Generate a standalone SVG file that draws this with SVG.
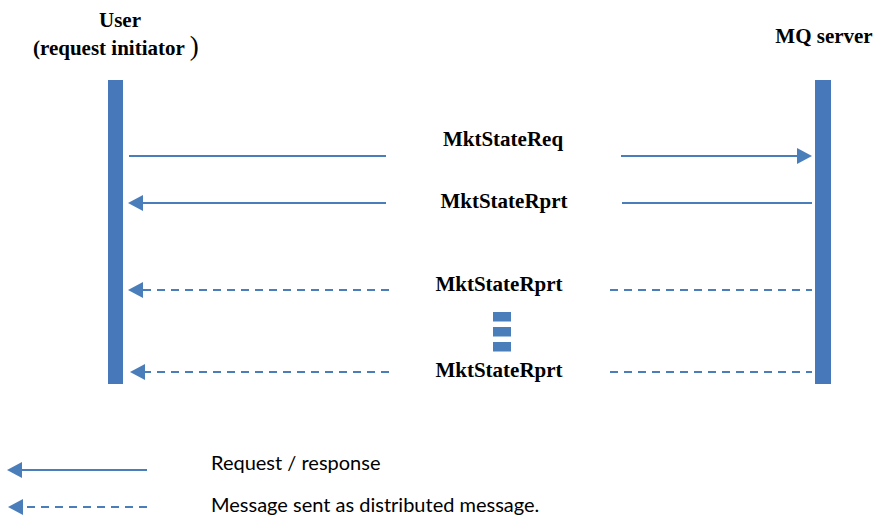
<svg xmlns="http://www.w3.org/2000/svg" width="874" height="518" viewBox="0 0 874 518">
  <defs>
    <marker id="head" markerUnits="userSpaceOnUse" markerWidth="15" markerHeight="16" refX="0" refY="8" orient="auto" viewBox="0 0 15 16">
      <path d="M0,0 L15,8 L0,16 Z" fill="#4A7EBB"/>
    </marker>
    <style>
      .bar { fill: #4779BA; }
      .hdr { font-family: "Liberation Serif", "Times New Roman", serif; font-weight: bold; font-size: 21px; fill: #000; }
      .lbl { font-family: "Liberation Serif", "Times New Roman", serif; font-weight: bold; font-size: 21px; fill: #000; text-anchor: middle; }
      .leg { font-family: Lato, "Liberation Sans", sans-serif; font-size: 20px; fill: #000; }
      .solid { stroke: #4A7EBB; stroke-width: 2; fill: none; }
      .dash { stroke: #4A7EBB; stroke-width: 2; fill: none; stroke-dasharray: 8 6; }
      .dots { fill: #4A7EBB; }
    </style>
  </defs>
  <rect width="874" height="518" fill="#fff"/>

  <g id="user">
    <text class="hdr" x="120" y="27" text-anchor="middle">User</text>
    <text class="hdr" x="33" y="55">(request initiator <tspan font-size="27px" font-weight="normal">)</tspan></text>
    <rect class="bar" x="108" y="80" width="15" height="304"/>
  </g>

  <g id="mq-server">
    <text class="hdr" x="824" y="43" text-anchor="middle">MQ server</text>
    <rect class="bar" x="815" y="80" width="16" height="304"/>
  </g>

  <g id="connectors">
    <path class="solid" d="M129,156 H386"/>
    <path class="solid" d="M621,156 H797" marker-end="url(#head)"/>
    <path class="solid" d="M386,203 H143" marker-end="url(#head)"/>
    <path class="solid" d="M622,203 H812"/>
    <path class="dash" d="M389,290 H143" marker-end="url(#head)"/>
    <path class="dash" d="M610,290 H812"/>
    <path class="dash" d="M389,372 H145" marker-end="url(#head)"/>
    <path class="dash" d="M610,372 H812"/>
  </g>

  <g id="labels">
    <text class="lbl" x="503" y="146">MktStateReq</text>
    <text class="lbl" x="504" y="208">MktStateRprt</text>
    <text class="lbl" x="499" y="291">MktStateRprt</text>
    <text class="lbl" x="499" y="377">MktStateRprt</text>
  </g>

  <g id="ellipsis">
    <rect class="dots" x="493" y="312" width="18" height="9.5"/>
    <rect class="dots" x="493" y="327" width="18" height="9.5"/>
    <rect class="dots" x="493" y="342" width="18" height="9.5"/>
  </g>

  <g id="legend">
    <path class="solid" d="M147,470 H22" marker-end="url(#head)"/>
    <text class="leg" x="211" y="470">Request / response</text>
    <path class="dash" d="M147,507 H23" marker-end="url(#head)"/>
    <text class="leg" x="211" y="512">Message sent as distributed message.</text>
  </g>
</svg>
